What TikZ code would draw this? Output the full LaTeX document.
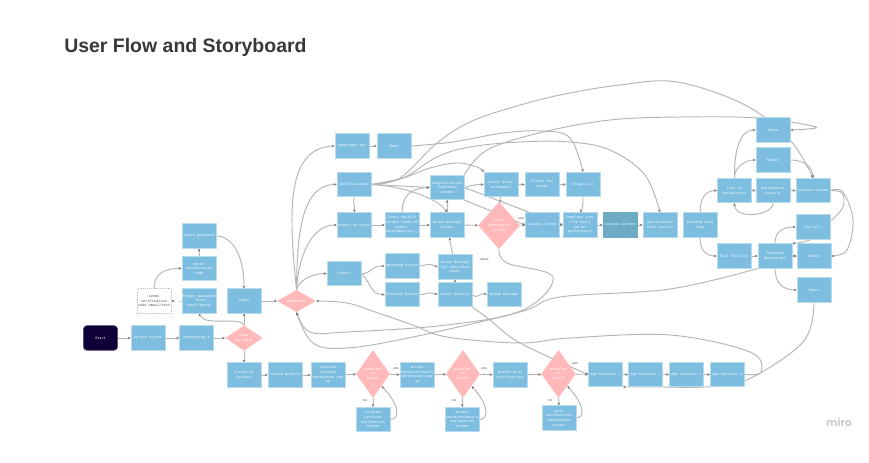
\documentclass[tikz,border=0pt]{standalone}
\usepackage{fontspec}
\setmainfont{Liberation Sans}
\setmonofont{Liberation Mono}
\newfontfamily\mirofont{Poppins}
\usetikzlibrary{shapes.geometric,arrows.meta}
\pgfdeclarelayer{bg}
\pgfsetlayers{bg,main}
\definecolor{boxblue}{HTML}{7DBDE0}
\definecolor{boxedge}{HTML}{B8DCEE}
\definecolor{pinkd}{HTML}{FFB9BB}
\definecolor{darkbox}{HTML}{6EABC4}
\definecolor{startc}{HTML}{100038}
\definecolor{linec}{HTML}{B4B4B4}
\definecolor{tipc}{HTML}{777777}
\tikzset{
  screen/.style={rectangle,fill=boxblue,draw=boxedge,line width=.4pt,minimum width=25.6pt,minimum height=18.4pt,inner sep=0pt,text=white,align=center,font=\ttfamily\fontsize{2.7}{3.5}\selectfont},
  darkscreen/.style={screen,fill=darkbox,draw=darkbox},
  startbox/.style={screen,fill=startc,draw=startc!70!white,rounded corners=2.5pt},
  notebox/.style={screen,fill=white,draw=black!25,densely dotted,text=black!70},
  choice/.style={diamond,fill=pinkd,draw=none,inner sep=0pt,text=white,align=center,font=\ttfamily\fontsize{2.7}{3.5}\selectfont},
  tinylabel/.style={inner sep=0pt,text=black!75,font=\ttfamily\fontsize{2.5}{3}\selectfont},
  conn/.style={draw=linec,line width=.7pt,-{Stealth[length=2.2pt,width=2pt,color=tipc]}}
}
\begin{document}
\begin{tikzpicture}[x=.75pt,y=-.75pt]
\useasboundingbox (0,0) rectangle (869,463);
\begin{pgfonlayer}{bg}
\fill[white] (0,0) rectangle (869,463);
\end{pgfonlayer}
\node[anchor=base west,inner sep=0pt,text=black!78,font=\fontsize{14.6}{18}\selectfont\bfseries] (title) at (64,53) {User Flow and Storyboard};
\node[inner sep=0pt,text=black!20,font=\mirofont\fontsize{8}{9}\selectfont\bfseries] (miro) at (839,422) {miro};
% left
\node[startbox] (start) at (100.5,338) {Start};
\node[screen] (splash) at (148,338) {splash screen};
\node[screen] (onb) at (196.5,338) {onboarding 1};
\node[choice,minimum width=28pt,minimum height=16.5pt] (sign) at (244,338) {Sign\\up/login};
\node[screen] (login) at (244,301) {login};
\node[screen] (forgot) at (199,301) {Forgot password\\- Enter\\email/phone};
\node[notebox] (sends) at (154,301) {sends\\verification\\code email/text};
\node[screen] (enter) at (199,268.5) {enter\\verification\\code};
\node[screen] (reset) at (199,236) {reset password};
\node[choice,minimum width=29pt,minimum height=16.5pt] (dash) at (296.5,301) {Dashboard};
% bottom row
\node[screen] (create) at (244,375) {Create An\\Account};
\node[screen] (profile) at (285,375) {create profile};
\node[screen] (locp) at (328,375) {location\\services\\permission pop\\up};
\node[choice,minimum width=25.5pt,minimum height=36pt] (d1) at (373,374) {position\\on\\given?};
\node[screen] (loce) at (373,419.5) {location\\services\\explanation\\screen};
\node[screen] (accp) at (417,375) {access\\contacts/emails\\permission pop\\up};
\node[choice,minimum width=25.5pt,minimum height=36pt] (d2) at (463,374) {position\\on\\given?};
\node[screen] (acce) at (462,419.5) {access\\contacts/emails\\explanation\\screen};
\node[screen] (push) at (510,375) {Enable push\\notifications};
\node[choice,minimum width=26pt,minimum height=36pt] (d3) at (558.5,374) {position\\on\\given?};
\node[screen] (pushe) at (559,418) {push\\notification\\explanation\\screen};
\node[screen] (app1) at (605.5,374.5) {App Features 1};
\node[screen] (app2) at (645.5,374.5) {App Features 2};
\node[screen] (app3) at (686.5,374.5) {App Features 3};
\node[screen] (app4) at (727.5,374.5) {App Features 4};
% middle
\node[screen] (ham) at (352,146) {Hamburger Bar};
\node[screen] (menu) at (394,146) {Menu};
\node[screen] (notif) at (354,184.5) {Notifications};
\node[screen] (cevent) at (354,225) {create an event};
\node[screen] (edet) at (402,225) {Event details\\screen (name of\\event,\\attendees etc.)};
\node[screen] (gmsg) at (447,225) {group message\\screen};
\node[screen] (congr) at (447,187.5) {congratulation\\completed\\screen};
\node[screen] (attend) at (501,184.5) {Event group\\attendees};
\node[screen] (newg) at (542,184.5) {Create new\\group};
\node[screen] (glist) at (583,184.5) {Group List};
\node[choice,minimum width=31.5pt,minimum height=35.5pt] (save) at (499,225.5) {save\\conference\\ballot};
\node[screen] (succ1) at (542.5,225) {success screen};
\node[screen] (compl) at (580,225) {complete your\\(the user)\\ballot\\preferences};
\node[darkscreen] (succ2) at (620,225) {success screen};
\node[screen] (nres) at (660,225) {Notification\\With results};
\node[screen] (win) at (700,225) {Winning Food\\Type};
\node[screen] (events) at (344,273.5) {Events};
\node[screen] (upc) at (402,266) {Upcoming Events};
\node[screen] (prev) at (402,294.5) {Previous Events};
\node[screen] (gspec) at (455,267) {Group Message\\for specified\\event};
\node[screen] (edet2) at (455,294.5) {Event Details};
\node[screen] (gm2) at (504,294.5) {Group Message};
% right
\node[screen] (list) at (734.5,190.5) {List of\\Restaurants};
\node[screen] (rdet) at (773,190.5) {Restaurants\\details};
\node[screen] (succ3) at (813,190.5) {success screen};
\node[screen] (share1) at (773,130) {Share};
\node[screen] (sel1) at (773,160) {Select};
\node[screen] (reroll) at (813,227) {Re-roll};
\node[screen] (sel2) at (814,256) {Select};
\node[screen] (seld) at (775,256) {Selected\\Restaurant};
\node[screen] (roll) at (734,256) {Roll The Dice};
\node[screen] (share2) at (814,290) {Share};
% small labels
\node[tinylabel] (lyes0) at (521,219) {yes};
\node[tinylabel] (llater) at (484,259) {later};
\node[tinylabel] (lyes1) at (396,369) {yes};
\node[tinylabel] (lyes2) at (484,369) {yes};
\node[tinylabel] (lyes3) at (575,364) {yes};
\node[tinylabel] (lno1) at (365,401) {no};
\node[tinylabel] (lno2) at (454,401) {no};
\node[tinylabel] (lno3) at (550,401) {no};
\begin{pgfonlayer}{bg}
% straight
\draw[conn] (start) -- (splash);
\draw[conn] (splash) -- (onb);
\draw[conn] (onb) -- (sign);
\draw[conn] (sign) -- (login);
\draw[conn] (sign) -- (create);
\draw[conn] (login) -- (dash);
\draw[conn] (enter) -- (reset);
\draw[conn,draw=black!15,dashed] (forgot) -- (sends);
\draw[conn] (create) -- (profile);
\draw[conn] (profile) -- (locp);
\draw[conn] (locp) -- (d1);
\draw[conn] (d1) -- (accp);
\draw[conn] (accp) -- (d2);
\draw[conn] (d2) -- (push);
\draw[conn] (push) -- (d3);
\draw[conn] (d3) -- (app1);
\draw[conn] (app1) -- (app2);
\draw[conn] (app2) -- (app3);
\draw[conn] (app3) -- (app4);
\draw[conn] (d1) -- (loce);
\draw[conn] (d2) -- (acce);
\draw[conn] (d3) -- (pushe);
\draw[conn] (ham) -- (menu);
\draw[conn] (cevent) -- (edet);
\draw[conn] (edet) -- (gmsg);
\draw[conn] (gmsg) -- (save);
\draw[conn] (save) -- (succ1);
\draw[conn] (congr) -- (gmsg);
\draw[conn] (gmsg) -- (congr);
\draw[conn] (gspec) -- (gmsg);
\draw[conn] (edet2) -- (gspec);
\draw[conn] (attend) -- (save);
\draw[conn] (attend) -- (newg);
\draw[conn] (newg) -- (glist);
\draw[conn] (succ1) -- (compl);
\draw[conn] (compl) -- (succ2);
\draw[conn] (succ2) -- (nres);
\draw[conn] (list) -- (rdet);
\draw[conn] (rdet) -- (succ3);
\draw[conn] (roll) -- (seld);
\draw[conn] (seld) -- (sel2);
\draw[conn] (sel2) -- (seld);
\draw[conn] (notif.south) to[out=-100,in=80] (cevent.north);
\draw[conn] (congr.east) to[out=15,in=180] (attend.west);
% left curves
\draw[conn] (sends.north) .. controls (154,276) and (162,268) .. (enter.west);
\draw[conn] (reset.east) .. controls (232,236) and (244,255) .. (login.north);
\draw[conn] (sign.north) .. controls (240,316) and (205,327) .. (forgot.south);
% loops on permissions
\draw[conn] (loce.east) .. controls (400,420) and (400,405) .. (d1.south east);
\draw[conn] (acce.east) .. controls (489,420) and (489,405) .. (d2.south east);
\draw[conn] (pushe.east) .. controls (585,418) and (585,405) .. (d3.south east);
% dashboard fan
\draw[conn] (dash.north) .. controls (289,215) and (285,148) .. (ham.west);
\draw[conn] (dash.north) .. controls (297,240) and (300,184.5) .. (notif.west);
\draw[conn] (dash.north) .. controls (298,260) and (310,225) .. (cevent.west);
\draw[conn] (dash.north) .. controls (298,282) and (310,273.5) .. (events.west);
% events
\draw[conn] (events.east) .. controls (372,274) and (370,266) .. (upc.west);
\draw[conn] (events.east) .. controls (372,284) and (370,294.5) .. (prev.west);
\draw[conn] (upc.east) .. controls (428,266) and (425,262) .. (gspec.west);
\draw[conn] (prev.east) .. controls (428,295) and (425,291) .. (edet2.west);
\draw[conn] (edet2.east) .. controls (478,300) and (480,292) .. (gm2.west);
% notifications fan
\draw[conn] (notif.east) -- (congr.west);
\draw[conn] (edet.north) .. controls (402,197) and (410,188) .. (congr.west);
\draw[conn] (notif.east) .. controls (405,186) and (440,200) .. (gmsg.north);
\draw[conn] plot[smooth,tension=.6] coordinates {(notif.east) (403,178) (430,168) (457,163) (477,167) (attend.north west)};
\draw[conn] plot[smooth,tension=.6] coordinates {(notif.east) (400,178) (437,143) (470,122) (510,108) (560,95) (620,85) (677,82) (745,105) (790,140) (succ3.north)};
\draw[conn] plot[smooth,tension=.6] coordinates {(notif.east) (403,178) (437,157) (470,147) (520,142) (570,142) (610,150) (645,175) (nres.north)};
\draw[conn] plot[smooth,tension=.6] coordinates {(menu.east) (453,142) (503,133) (543,131) (570,138) (glist.north)};
\draw[conn] plot[smooth,tension=.6] coordinates {(congr.north east) (487,150) (543,132) (610,120) (680,117) (757,118) (816,127) (share1.east)};
\draw[conn] (congr.east) -- (compl.west);
\draw[conn] (congr.south east) -- (succ1.west);
% long lower curves
\draw[conn] plot[smooth,tension=.6] coordinates {(app4.east) (761,372) (750,352) (670,335) (570,338) (520,343) (447,337) (413,325) (375,312) (347,303) (dash.east)};
\draw[conn] plot[smooth,tension=.6] coordinates {(save.south) (507,263) (553,277) (523,310) (447,325) (347,332) (310,332) (dash.south)};
\draw[conn] plot[smooth,tension=.6] coordinates {(seld.south west) (670,289) (560,297) (520,312) (413,337) (347,348) (313,343) (dash.south)};
\draw[conn] plot[smooth,tension=.6] coordinates {(edet2.south east) (490,320) (520,343) (app1.west)};
\draw[conn] plot[smooth,tension=.6] coordinates {(share2.south) (803,342) (745,381) (705,387) (660,387) (app1.south east)};
% right curves
\draw[conn] (win.north) .. controls (700,198) and (706,190.5) .. (list.west);
\draw[conn] (win.south) .. controls (700,250) and (706,256) .. (roll.west);
\draw[conn] (list.north) .. controls (734,150) and (740,130) .. (share1.west);
\draw[conn] (list.north) .. controls (734,168) and (745,160) .. (sel1.west);
\draw[conn] (sel1.east) .. controls (805,160) and (813,168) .. (succ3.north);
\draw[conn] (rdet.south) .. controls (773,216) and (735,220) .. (list.south);
\draw[conn] (glist.south) .. controls (583,205) and (583,208) .. (compl.north);
\draw[conn] plot[smooth,tension=.6] coordinates {(succ3.east) (843,192) (853,220) (847,250) (sel2.east)};
\draw[conn] plot[smooth,tension=.6] coordinates {(succ3.east) (842,193) (843,207) (830,222) (812,239) (seld.north east)};
\draw[conn] (seld.north) .. controls (775,232) and (782,227) .. (reroll.west);
\draw[conn] (seld.south) .. controls (775,283) and (783,290) .. (share2.west);
\end{pgfonlayer}
\end{tikzpicture}
\end{document}
